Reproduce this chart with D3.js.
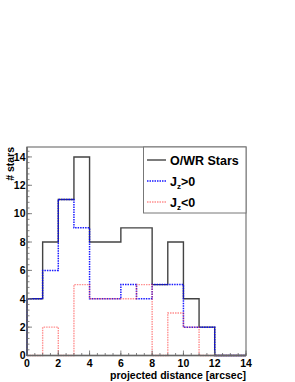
<!DOCTYPE html>
<html>
<head>
<meta charset="UTF-8" />
<script src="https://d3js.org/d3.v7.min.js"></script>
<style>
  body { margin: 0; background: white; }
  text { font-family: "Liberation Sans", Arial, sans-serif; font-weight: bold; }
</style>
</head>
<body>
<svg id="chart" width="295" height="382"></svg>
<script>
// bin edges 0..14, one bin per unit
const binStarts = [0, 1, 2, 3, 4, 5, 6, 7, 8, 9, 10, 11, 12, 13];
const allStars = [4, 8, 11, 14, 8, 8, 9, 9, 5, 8, 4, 2, 0, 0];
const jzPos    = [4, 6, 11, 9, 4, 4, 5, 4, 5, 5, 2, 2, 0, 0];
const jzNeg    = [0, 2, 0, 5, 4, 4, 4, 5, 0, 3, 2, 0, 0, 0];
const xTicks = [0, 2, 4, 6, 8, 10, 12, 14];
const yTicks = [0, 2, 4, 6, 8, 10, 12, 14];

const svg = d3.select("#chart");
const pLeft = 27, pRight = 246, pTop = 147, pBottom = 355.5;

const x = d3.scaleLinear().domain([0, 14]).range([pLeft, pRight]);
const y = d3.scaleLinear().domain([0, 14.7]).range([pBottom, pTop]);

// frame
svg.append("rect")
  .attr("x", pLeft).attr("y", pTop)
  .attr("width", pRight - pLeft).attr("height", pBottom - pTop)
  .attr("fill", "white").attr("stroke", "#777").attr("stroke-width", 1.2);

// histograms as step lines
const stepLine = d3.line()
  .x(d => x(d[0])).y(d => y(d[1]))
  .curve(d3.curveStepAfter);

function histPoints(vals) {
  const pts = [[0, 0]];
  binStarts.forEach((b, i) => pts.push([b, vals[i]]));
  pts.push([14, vals[vals.length - 1]]);
  pts.push([14, 0]);
  return pts;
}

const series = [
  { vals: allStars, color: "#222", dash: null, width: 1.4, op: 0.85 },
  { vals: jzPos, color: "#0000ff", dash: "1.5,1", width: 1.5, op: 0.9 },
  { vals: jzNeg, color: "#ff3333", dash: "1.5,1", width: 1.4, op: 0.55 }
];

svg.selectAll("path.hist").data(series)
  .join("path")
  .attr("class", "hist")
  .attr("d", d => stepLine(histPoints(d.vals)))
  .attr("fill", "none")
  .attr("stroke", d => d.color)
  .attr("stroke-width", d => d.width)
  .attr("stroke-opacity", d => d.op)
  .attr("stroke-dasharray", d => d.dash);

// axes lines
svg.append("line").attr("x1", pLeft).attr("x2", pLeft).attr("y1", pTop).attr("y2", pBottom)
  .attr("stroke", "#666").attr("stroke-width", 1.5);
svg.append("line").attr("x1", pLeft).attr("x2", pRight).attr("y1", pBottom).attr("y2", pBottom)
  .attr("stroke", "#666").attr("stroke-width", 1.5);

// y ticks: major every 2, minor every 0.4 (inside)
const yMinor = d3.range(0, 14.7, 0.4);
svg.selectAll("line.ymin").data(yMinor).join("line")
  .attr("x1", pLeft).attr("x2", pLeft + 2.5)
  .attr("y1", d => y(d)).attr("y2", d => y(d))
  .attr("stroke", "#666").attr("stroke-width", 0.8);
svg.selectAll("line.ymaj").data(yTicks).join("line")
  .attr("x1", pLeft).attr("x2", pLeft + 5)
  .attr("y1", d => y(d)).attr("y2", d => y(d))
  .attr("stroke", "#666").attr("stroke-width", 0.8);
svg.selectAll("text.ylab").data(yTicks).join("text")
  .attr("x", pLeft - 1.5).attr("y", d => y(d) + 3.8)
  .attr("text-anchor", "end").attr("font-size", 10.5)
  .text(d => d);

// x ticks: major every 2, minor every 0.5 (inside)
const xMinor = d3.range(0, 14.01, 0.5);
svg.selectAll("line.xmin").data(xMinor).join("line")
  .attr("x1", d => x(d)).attr("x2", d => x(d))
  .attr("y1", pBottom).attr("y2", pBottom - 2.5)
  .attr("stroke", "#666").attr("stroke-width", 0.8);
svg.selectAll("line.xmaj").data(xTicks).join("line")
  .attr("x1", d => x(d)).attr("x2", d => x(d))
  .attr("y1", pBottom).attr("y2", pBottom - 5)
  .attr("stroke", "#666").attr("stroke-width", 0.8);
svg.selectAll("text.xlab").data(xTicks).join("text")
  .attr("x", d => x(d)).attr("y", pBottom + 11)
  .attr("text-anchor", "middle").attr("font-size", 10.5)
  .text(d => d);

// axis titles
svg.append("text")
  .attr("transform", `translate(14, ${pTop}) rotate(-90)`)
  .attr("text-anchor", "end").attr("font-size", 10.5)
  .text("# stars");
svg.append("text")
  .attr("x", pRight).attr("y", 379)
  .attr("text-anchor", "end").attr("font-size", 10.5)
  .text("projected distance [arcsec]");

// legend
const lg = svg.append("g");
lg.append("rect")
  .attr("x", 143.5).attr("y", pTop).attr("width", pRight - 143.5).attr("height", 66)
  .attr("fill", "white").attr("stroke", "#777").attr("stroke-width", 1);
const legendItems = [
  { label: "O/WR Stars", sub: null, s: series[0] },
  { label: "J", sub: ">0", s: series[1] },
  { label: "J", sub: "<0", s: series[2] }
];
legendItems.forEach((it, i) => {
  const cy = 160 + i * 21;
  lg.append("line")
    .attr("x1", 147).attr("x2", 166).attr("y1", cy).attr("y2", cy)
    .attr("stroke", it.s.color).attr("stroke-width", it.s.width)
    .attr("stroke-opacity", it.s.op).attr("stroke-dasharray", it.s.dash);
  const t = lg.append("text").attr("x", 170).attr("y", cy + 4.5).attr("font-size", 12.5);
  t.append("tspan").text(it.label);
  if (it.sub) {
    t.append("tspan").attr("font-size", 8).attr("dy", 3).text("z");
    t.append("tspan").attr("dy", -3).text(it.sub);
  }
});
</script>
</body>
</html>
